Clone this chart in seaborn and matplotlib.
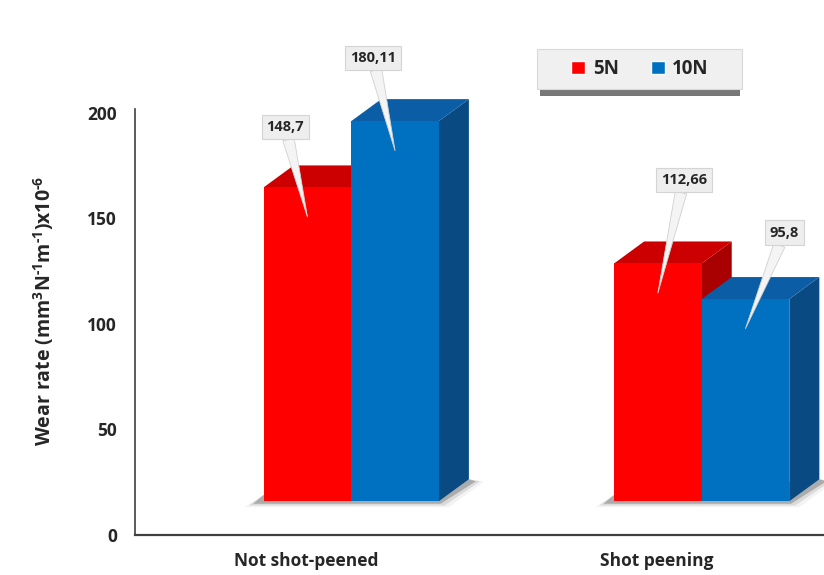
import numpy as np
import pandas as pd
import seaborn as sns
import matplotlib.pyplot as plt
from matplotlib.patches import Polygon, Rectangle

# data
conditions = ['Not shot-peened', 'Not shot-peened', 'Shot peening', 'Shot peening']
loads = ['5N', '10N', '5N', '10N']
wear = [148.7, 180.11, 112.66, 95.8]
value_labels = ['148,7', '180,11', '112,66', '95,8']
yticks = [0, 50, 100, 150, 200]

df = pd.DataFrame({'Condition': conditions, 'Load': loads, 'Wear': wear})

sns.set_style('white')
plt.rcParams['font.family'] = ['Open Sans', 'DejaVu Sans']
plt.rcParams['mathtext.fontset'] = 'custom'
plt.rcParams['mathtext.bf'] = 'Open Sans:bold'
plt.rcParams['mathtext.rm'] = 'Open Sans:bold'

W, H = 824, 575
TXT = '#262626'
fig = plt.figure(figsize=(W / 100, H / 100), dpi=100)
ax = fig.add_axes([135 / W, 40 / H, 1 - 135 / W, 535 / H])

front = {'5N': '#ff0000', '10N': '#0070c0'}
top_c = {'5N': '#cc0000', '10N': '#0b5ea6'}
side_c = {'5N': '#a80000', '10N': '#0a4a82'}

sns.barplot(data=df, x='Condition', y='Wear', hue='Load', palette=front,
            width=0.5, saturation=1, ax=ax, legend=True)

px_per_unit = 535 / 253.5
ax.set_ylim(0, 253.5)
ax.set_xlim(-0.489, 1.477)

lift = 16.0          # front face floats above the axis floor (3D look)
shift = 0.128        # bars sit right of the category label
dx = 30 / 350        # depth offset in x (data units)
dy = 22 / px_per_unit

order = ['5N', '10N']
bars = list(ax.patches)[:4]
for i, p in enumerate(bars):
    load = order[i // 2]
    p.set_y(p.get_y() + lift)
    p.set_x(p.get_x() + shift)
    p.set_zorder(2)
    p.set_edgecolor('none')
    x0, y0, w, h = p.get_x(), p.get_y(), p.get_width(), p.get_height()
    top = Polygon([(x0, y0 + h), (x0 + dx, y0 + h + dy), (x0 + w + dx, y0 + h + dy), (x0 + w, y0 + h)],
                  closed=True, fc=top_c[load], ec='none', zorder=1.2 + 0.1 * (i // 2))
    side = Polygon([(x0 + w, y0), (x0 + w + dx, y0 + dy), (x0 + w + dx, y0 + h + dy), (x0 + w, y0 + h)],
                   closed=True, fc=side_c[load], ec='none', zorder=1.1 + 0.1 * (i // 2))
    ax.add_patch(side)
    ax.add_patch(top)

# soft shadow along the base of each bar pair
for g in range(2):
    left = bars[g]
    right = bars[g + 2]
    x0, y0 = left.get_x(), left.get_y()
    xr = right.get_x() + right.get_width()
    for k, a in enumerate([0.35, 0.15, 0.07]):
        e = 0.012 * k
        ax.add_patch(Polygon([(x0 - 0.03 - e, y0 - 1.2 - 0.8 * k), (xr + 0.005 + e, y0 - 1.2 - 0.8 * k),
                              (xr + dx + 0.02 + e, y0 + dy - 1), (xr + dx, y0 + dy), (x0, y0 + 3)],
                             closed=True, fc='#555555', ec='none', alpha=a, zorder=0.8))

# callout labels: text offset (px) from tip
offsets = [(-22, 90), (-22, 93), (26, 113), (39, 96)]
# seaborn patch order is hue-major: 5N cat0, 5N cat1, 10N cat0, 10N cat1
label_idx = [0, 2, 1, 3]
for j in range(4):
    p = bars[label_idx[j]]
    tipx = p.get_x() + p.get_width() * 0.5
    tipy = p.get_y() + p.get_height() - 14
    ax.annotate(value_labels[j], xy=(tipx, tipy), xytext=offsets[j], textcoords='offset pixels',
                ha='center', va='center', fontsize=10.5, fontweight='bold', color=TXT,
                bbox=dict(boxstyle='square,pad=0.35', fc='#eeeeee', ec='#d4d4d4', lw=0.8),
                arrowprops=dict(arrowstyle='wedge,tail_width=0.8,shrink_factor=0.5', fc='#f4f4f4',
                                ec='#d0d0d0', lw=0.6, shrinkA=0, shrinkB=0),
                zorder=5, annotation_clip=False)

sns.despine(ax=ax, top=True, right=True)
ax.spines['left'].set_bounds(0, 202)
ax.spines['left'].set_color('#404040')
ax.spines['bottom'].set_color('#404040')
ax.spines['left'].set_linewidth(1.2)
ax.spines['bottom'].set_linewidth(1.6)

ax.set_yticks(yticks)
ax.set_yticklabels([str(t) for t in yticks], fontsize=12.5, fontweight='bold', color=TXT)
ax.tick_params(axis='y', length=0, pad=13)
ax.tick_params(axis='x', length=0, pad=12)
for t in ax.get_xticklabels():
    t.set_fontsize(12.5)
    t.set_fontweight('bold')
    t.set_color(TXT)

ax.set_xlabel('')
ax.set_ylabel(r'Wear rate (mm$^{\text{3}}$N$^{\text{-1}}$m$^{\text{-1}}$)x10$^{\text{-6}}$',
              fontsize=14, fontweight='bold', color=TXT)
ax.yaxis.set_label_coords(-0.115, 0.419)

# legend with a hand-drawn frame and drop shadow
handles, labels = ax.get_legend_handles_labels()
leg = ax.legend(handles, labels, loc='center', bbox_to_anchor=(640 / W, 1 - 69 / H),
                bbox_transform=fig.transFigure, ncol=2, frameon=False,
                prop={'weight': 'bold', 'size': 13.5}, handlelength=0.75, handleheight=0.75,
                handletextpad=0.4, columnspacing=1.7, borderpad=0.3)
leg.set_zorder(7)
for txt in leg.get_texts():
    txt.set_color(TXT)
ax.add_patch(Rectangle((540 / W, 1 - 96 / H), 200 / W, 10 / H, transform=fig.transFigure,
                       fc='#555555', ec='none', alpha=0.8, zorder=5.5, clip_on=False))
ax.add_patch(Rectangle((537 / W, 1 - 89 / H), 205 / W, 40 / H, transform=fig.transFigure,
                       fc='#f0f0f0', ec='#d9d9d9', lw=0.8, zorder=6, clip_on=False))

fig.savefig('out.png', dpi=100)
